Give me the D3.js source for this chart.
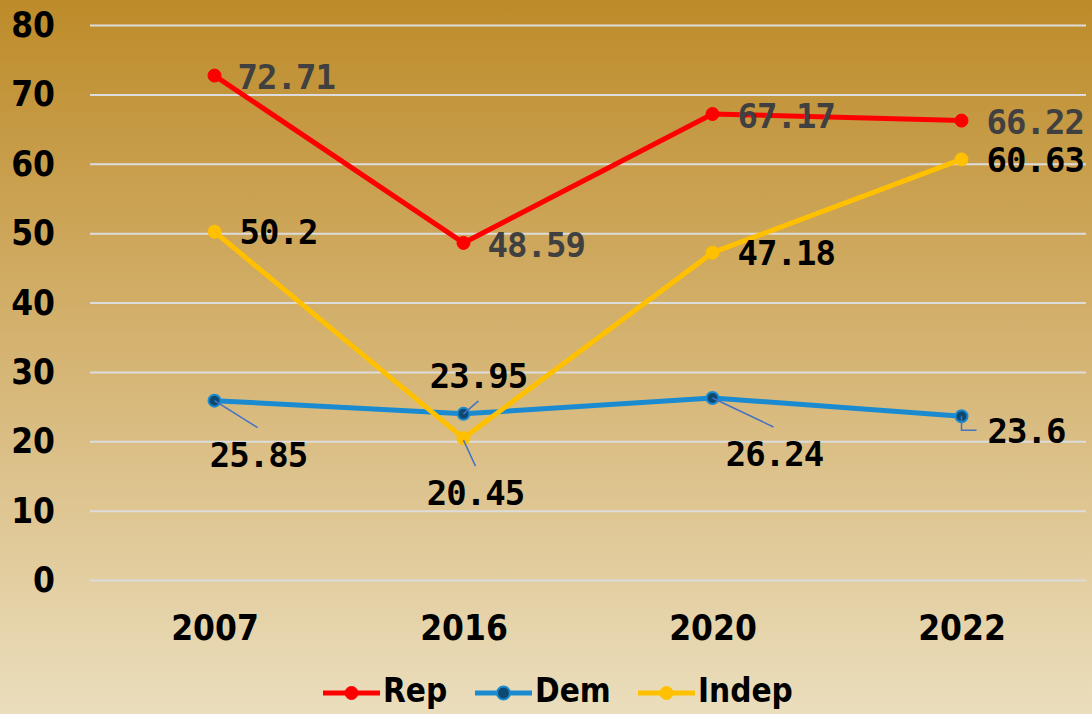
<!DOCTYPE html>
<html>
<head>
<meta charset="utf-8">
<script src="https://cdn.jsdelivr.net/npm/d3@7"></script>
<style>
  html, body { margin: 0; padding: 0; background: #ffffff; }
  svg { display: block; }
</style>
</head>
<body>
<svg id="chart" width="1092" height="714"></svg>
<script>
// Survey results by party, four waves
const years = ["2007", "2016", "2020", "2022"];
const repValues = [72.71, 48.59, 67.17, 66.22];
const demValues = [25.85, 23.95, 26.24, 23.6];
const indepValues = [50.2, 20.45, 47.18, 60.63];
const yTicks = [0, 10, 20, 30, 40, 50, 60, 70, 80];

const series = [
  { name: "Rep", values: repValues, color: "#ff0000", marker: "#ff0000", markerStroke: "#ff0000", labelColor: "#404040" },
  { name: "Dem", values: demValues, color: "#1a8bd0", marker: "#0d4a72", markerStroke: "#1a8bd0", labelColor: "#000000" },
  { name: "Indep", values: indepValues, color: "#ffc000", marker: "#ffc000", markerStroke: "#ffc000", labelColor: "#000000" }
];

// Label placement per point: centre offset of the text from the marker,
// and an optional leader path (relative points) from the marker.
const labelLayout = {
  Rep: [
    { dx: 23, dy: 1, anchor: "start" },
    { dx: 24, dy: 2, anchor: "start" },
    { dx: 25, dy: 1, anchor: "start" },
    { dx: 25, dy: 1, anchor: "start" }
  ],
  Dem: [
    { dx: 44, dy: 54, anchor: "middle", leader: [[0, 0], [43, 27]] },
    { dx: 15, dy: -38, anchor: "middle", leader: [[0, 0], [15, -13]] },
    { dx: 62, dy: 55, anchor: "middle", leader: [[0, 0], [61, 29]] },
    { dx: 26, dy: 14, anchor: "start", leader: [[0, 0], [0, 14], [15, 14]] }
  ],
  Indep: [
    { dx: 25, dy: 0, anchor: "start" },
    { dx: 12, dy: 54, anchor: "middle", leader: [[0, 2], [12, 28]] },
    { dx: 25, dy: 0, anchor: "start" },
    { dx: 25, dy: 0, anchor: "start" }
  ]
};

const W = 1092, H = 714;
const svg = d3.select("#chart");

// Background gradient, dark gold at top fading to pale sand
const defs = svg.append("defs");
const grad = defs.append("linearGradient")
  .attr("id", "bg").attr("x1", 0).attr("y1", 0).attr("x2", 0).attr("y2", 1);
grad.append("stop").attr("offset", "0%").attr("stop-color", "#bd8b29");
grad.append("stop").attr("offset", "50%").attr("stop-color", "#d5b473");
grad.append("stop").attr("offset", "100%").attr("stop-color", "#ebdebd");
svg.append("rect").attr("width", W).attr("height", H).attr("fill", "url(#bg)");

const plotLeft = 90, plotRight = 1086, plotTop = 25, plotBottom = 580;

const x = d3.scalePoint().domain(years).range([plotLeft, plotRight]).padding(0.5);
const y = d3.scaleLinear().domain([0, 80]).range([plotBottom, plotTop]);

const axisFont = "'DejaVu Sans Condensed', 'DejaVu Sans', sans-serif";
const labelFont = "'DejaVu Sans Mono', monospace";

// Horizontal gridlines
svg.append("g")
  .attr("transform", `translate(${plotLeft},0)`)
  .call(d3.axisLeft(y).tickValues(yTicks).tickSize(-(plotRight - plotLeft)).tickFormat(""))
  .call(g => g.select(".domain").remove())
  .call(g => g.selectAll("line").attr("stroke", "#dcdcdc").attr("stroke-width", 2));

// Y tick labels
svg.append("g")
  .attr("transform", "translate(55,0)")
  .call(d3.axisLeft(y).tickValues(yTicks).tickSize(0).tickPadding(0))
  .call(g => g.select(".domain").remove())
  .call(g => g.selectAll("text")
    .attr("font-family", axisFont).attr("font-weight", "bold")
    .attr("font-size", 35).attr("fill", "#000").attr("dy", "0.33em"));

// X tick labels
svg.append("g")
  .attr("transform", "translate(0,627)")
  .call(d3.axisBottom(x).tickSize(0).tickPadding(0))
  .call(g => g.select(".domain").remove())
  .call(g => g.selectAll("text")
    .attr("font-family", axisFont).attr("font-weight", "bold")
    .attr("font-size", 35).attr("fill", "#000").attr("dy", "0.36em"));

const line = d3.line().x((d, i) => x(years[i])).y(d => y(d));

// Lines and markers
series.forEach(s => {
  svg.append("path")
    .datum(s.values)
    .attr("d", line)
    .attr("fill", "none")
    .attr("stroke", s.color)
    .attr("stroke-width", 5)
    .attr("stroke-linejoin", "round");
});

series.forEach(s => {
  svg.append("g").selectAll("circle")
    .data(s.values)
    .join("circle")
    .attr("cx", (d, i) => x(years[i]))
    .attr("cy", d => y(d))
    .attr("r", s.name === "Dem" ? 6 : 6.5)
    .attr("fill", s.marker)
    .attr("stroke", s.markerStroke)
    .attr("stroke-width", s.name === "Dem" ? 2 : 1);
});

// Leader lines and value labels
const labelSize = 34;
series.forEach(s => {
  const g = svg.append("g");
  s.values.forEach((v, i) => {
    const px = x(years[i]), py = y(v);
    const L = labelLayout[s.name][i];
    if (L.leader) {
      g.append("path")
        .attr("d", d3.line()(L.leader.map(p => [px + p[0], py + p[1]])))
        .attr("fill", "none")
        .attr("stroke", "#4472c4")
        .attr("stroke-width", 1.5);
    }
    g.append("text")
      .attr("x", px + L.dx)
      .attr("y", py + L.dy + labelSize * 0.37)
      .attr("text-anchor", L.anchor)
      .attr("font-family", labelFont)
      .attr("font-weight", "bold")
      .attr("font-size", labelSize)
      .attr("letter-spacing", -1)
      .attr("fill", s.labelColor)
      .text(String(v));
  });
});

// Legend
const legendItems = [
  { s: series[0], x: 323 },
  { s: series[1], x: 475 },
  { s: series[2], x: 638 }
];
const ly = 693;
const leg = svg.append("g");
legendItems.forEach(it => {
  leg.append("line")
    .attr("x1", it.x).attr("x2", it.x + 57)
    .attr("y1", ly).attr("y2", ly)
    .attr("stroke", it.s.color).attr("stroke-width", 5);
  leg.append("circle")
    .attr("cx", it.x + 28.5).attr("cy", ly).attr("r", 6.5)
    .attr("fill", it.s.marker).attr("stroke", it.s.markerStroke)
    .attr("stroke-width", it.s.name === "Dem" ? 2 : 1);
  leg.append("text")
    .attr("x", it.x + 60).attr("y", 702)
    .attr("font-family", axisFont).attr("font-weight", "bold")
    .attr("font-size", 33).attr("fill", "#000")
    .text(it.s.name);
});
</script>
</body>
</html>
